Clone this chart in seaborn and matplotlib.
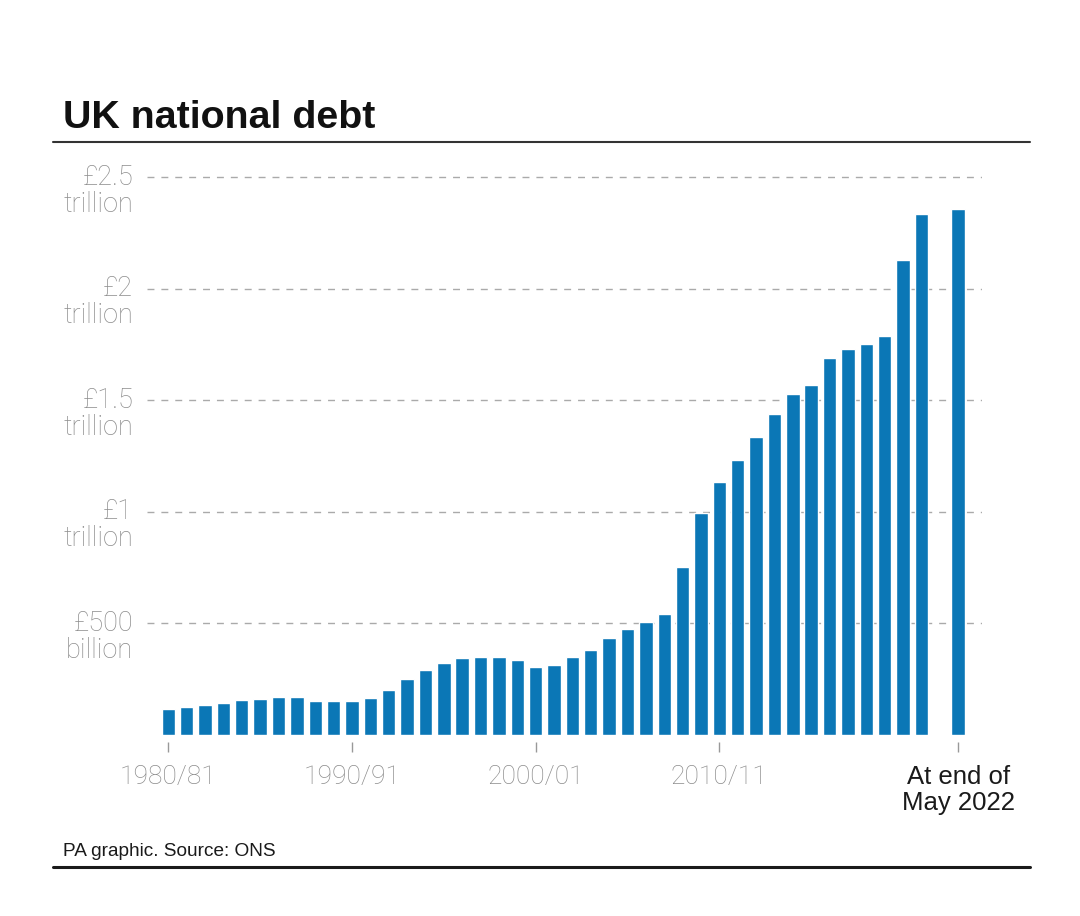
import numpy as np
import pandas as pd
import matplotlib
matplotlib.use("Agg")
import matplotlib.pyplot as plt
import matplotlib.transforms as mtransforms
from matplotlib.lines import Line2D
import seaborn as sns

# ---------------- data (£ billion) ----------------
years = [f"{y}/{(y + 1) % 100:02d}" for y in range(1980, 2022)]
debt = [115, 126, 133, 143, 157, 161, 169, 169, 154, 153,
        153, 167, 202, 250, 290, 323, 347, 350, 350, 338,
        306, 313, 348, 381, 436, 474, 508, 543, 755, 994,
        1136, 1233, 1338, 1438, 1529, 1571, 1689, 1732, 1752, 1789,
        2130, 2336]
latest_label = "At end of May 2022"
latest_value = 2357
gap_label = " "

xtick_labels = ["1980/81", "1990/91", "2000/01", "2010/11", "At end of\nMay 2022"]
xtick_cats = ["1980/81", "1990/91", "2000/01", "2010/11", latest_label]
ytick_values = [500, 1000, 1500, 2000, 2500]
ytick_top = ["£500", "£1", "£1.5", "£2", "£2.5"]
ytick_bottom = ["billion", "trillion", "trillion", "trillion", "trillion"]

df = pd.DataFrame({"period": years + [latest_label], "debt": debt + [latest_value]})
order = years + [gap_label, latest_label]

# ---------------- style ----------------
sns.set_theme(style="white")
plt.rcParams["font.family"] = ["Liberation Sans", "DejaVu Sans"]
LIGHT = dict(family=["Roboto", "Liberation Sans", "DejaVu Sans"], fontweight="light")

BLUE = "#0b77b6"
GREY = "#8c8c8c"

fig = plt.figure(figsize=(10.8, 9.16), dpi=100)
ax = fig.add_axes([147 / 1080, 1 - 735 / 916, (982 - 147) / 1080, (735 - 170) / 916])

sns.barplot(data=df, x="period", y="debt", order=order, color=BLUE,
            saturation=1, width=0.73, ax=ax, errorbar=None)

ax.set_xlim(-1.16, 44.3)
ax.set_ylim(0, 2533)
ax.set_xlabel("")
ax.set_ylabel("")

# grid
ax.set_yticks(ytick_values)
ax.set_yticklabels([])
ax.yaxis.grid(True, color="#aaaaaa", linestyle=(0, (5, 5)), linewidth=1)
ax.xaxis.grid(False)
ax.set_axisbelow(True)
ax.tick_params(axis="y", length=0)

for s in ["top", "right", "left"]:
    ax.spines[s].set_visible(False)
ax.spines["bottom"].set_position(("outward", 5))
ax.spines["bottom"].set_visible(False)

# x ticks
pos = [order.index(c) for c in xtick_cats]
ax.set_xticks(pos)
ax.set_xticklabels(xtick_labels, fontsize=19, color=GREY, linespacing=1.1, **LIGHT)
last = ax.get_xticklabels()[-1]
last.set_color("#1a1a1a")
last.set_fontweight("normal")
last.set_fontfamily(["Liberation Sans", "DejaVu Sans"])
last.set_fontsize(18.5)
ax.tick_params(axis="x", length=7.5, width=1, color="#999999", pad=9, bottom=True)

# y labels (two lines)
trans = mtransforms.blended_transform_factory(ax.transAxes, ax.transData)
for v, t1, t2 in zip(ytick_values, ytick_top, ytick_bottom):
    ax.annotate(t1, xy=(0, v), xycoords=trans, xytext=(-10, -5.4), textcoords="offset points",
                ha="right", va="baseline", fontsize=19.5, color=GREY, **LIGHT)
    ax.annotate(t2, xy=(0, v), xycoords=trans, xytext=(-10, -24.8), textcoords="offset points",
                ha="right", va="baseline", fontsize=19.5, color=GREY, **LIGHT)

# title, rules, source
fig.text(63 / 1080, 1 - 128 / 916, "UK national debt", fontsize=28.4, fontweight="bold",
         color="#111111", va="baseline", ha="left")
fig.add_artist(Line2D([53 / 1080, 1030 / 1080], [1 - 142 / 916] * 2, color="#333333", lw=1.5))
fig.add_artist(Line2D([53 / 1080, 1030 / 1080], [1 - 867 / 916] * 2, color="#1a1a1a", lw=2.2))
fig.text(63 / 1080, 1 - 852 / 916, "PA graphic. Source: ONS", fontsize=13.7,
         color="#1a1a1a", va="center", ha="left")

fig.savefig("out.png", dpi=100, facecolor="white")
